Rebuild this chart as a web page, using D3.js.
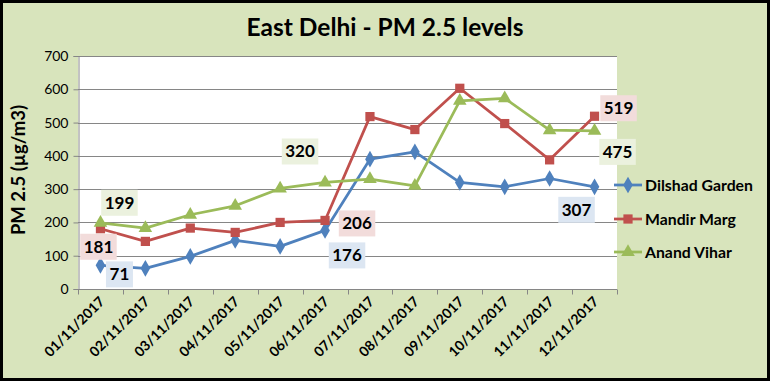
<!DOCTYPE html>
<html>
<head>
<meta charset="utf-8">
<script src="https://cdn.jsdelivr.net/npm/d3@7"></script>
<style>
  html, body { margin: 0; padding: 0; background: #fff; }
  svg { display: block; }
</style>
</head>
<body>
<svg id="chart" width="770" height="381"></svg>
<script>
// ---- data ----
const categories = ["01/11/2017","02/11/2017","03/11/2017","04/11/2017","05/11/2017","06/11/2017",
                    "07/11/2017","08/11/2017","09/11/2017","10/11/2017","11/11/2017","12/11/2017"];
const seriesNames = ["Dilshad Garden", "Mandir Marg", "Anand Vihar"];
const dilshadGarden = [71, 62, 98, 146, 128, 176, 390, 412, 320, 307, 332, 307];
const mandirMarg    = [181, 143, 183, 170, 200, 206, 518, 479, 603, 497, 388, 519];
const anandVihar    = [199, 183, 223, 250, 302, 320, 330, 310, 565, 573, 477, 475];
const yTicks = [0, 100, 200, 300, 400, 500, 600, 700];
const labelledIndex = [0, 5, 11];

// ---- styling / layout (not data) ----
const colors = ["#4F81BD", "#C0504D", "#9BBB59"];
const labelBg = ["#DCE6F2", "#F2DCDB", "#EBF1DE"];
const markers = [d3.symbolDiamond, d3.symbolSquare, d3.symbolTriangle];
const markerSize = [80, 85, 80];
// label offsets relative to point: [series][labelIndex] = [dx, dy]
const labelOffsets = [
  [[19, 9], [22, 25], [-18, 23]],
  [[-2, 18], [32, 3], [24, -8]],
  [[19, -20], [-25, -31], [23, 21]]
];

const svg = d3.select("#chart");
const W = 770, H = 381;
const font = "Lato, 'Noto Sans', sans-serif";

svg.append("rect").attr("x", 0).attr("y", 0).attr("width", W).attr("height", H).attr("fill", "#000");
svg.append("rect").attr("x", 3).attr("y", 3).attr("width", W - 6).attr("height", H - 6).attr("fill", "#D8E4BC");

const plot = { left: 78, right: 617, top: 56, bottom: 289 };

const x = d3.scaleBand().domain(categories).range([plot.left, plot.right]).paddingInner(0).paddingOuter(0);
const y = d3.scaleLinear().domain([0, 700]).range([plot.bottom, plot.top]);

// plot area
svg.append("rect").attr("x", plot.left).attr("y", plot.top)
  .attr("width", plot.right - plot.left).attr("height", plot.bottom - plot.top).attr("fill", "#fff");

// gridlines
svg.append("g").selectAll("line").data(yTicks.filter(d => d > 0)).join("line")
  .attr("x1", plot.left).attr("x2", plot.right)
  .attr("y1", d => Math.round(y(d)) + 0.5).attr("y2", d => Math.round(y(d)) + 0.5)
  .attr("stroke", "#868686").attr("stroke-width", 1);

// y axis
const yAxis = d3.axisLeft(y).tickValues(yTicks).tickSize(5).tickPadding(5);
const gy = svg.append("g").attr("transform", `translate(${plot.left + 0.5},0)`).call(yAxis);
gy.select(".domain").attr("stroke", "#868686");
gy.selectAll(".tick line").attr("stroke", "#868686");
gy.selectAll(".tick text").attr("font-family", font).attr("font-size", 14).attr("fill", "#000");

// x axis with ticks at category boundaries
const gx = svg.append("g").attr("transform", `translate(0,${plot.bottom + 0.5})`);
gx.append("line").attr("x1", plot.left).attr("x2", plot.right).attr("stroke", "#868686");
const bounds = categories.map(c => x(c)).concat([plot.right]);
gx.selectAll("line.tk").data(bounds).join("line").attr("class", "tk")
  .attr("x1", d => Math.round(d) + 0.5).attr("x2", d => Math.round(d) + 0.5)
  .attr("y1", 0).attr("y2", 5).attr("stroke", "#868686");
gx.selectAll("text").data(categories).join("text")
  .attr("transform", d => `translate(${x(d) + x.bandwidth() / 2 + 5},${13}) rotate(-45)`)
  .attr("text-anchor", "end")
  .attr("font-family", font).attr("font-weight", "bold").attr("font-size", 14)
  .attr("fill", "#000")
  .text(d => d);

// series
const allSeries = [dilshadGarden, mandirMarg, anandVihar];
const line = d3.line().x((d, i) => x(categories[i]) + x.bandwidth() / 2).y(d => y(d));

allSeries.forEach((vals, s) => {
  svg.append("path").datum(vals).attr("d", line)
    .attr("fill", "none").attr("stroke", colors[s]).attr("stroke-width", 2.75)
    .attr("stroke-linejoin", "round");
});
allSeries.forEach((vals, s) => {
  svg.append("g").selectAll("path").data(vals).join("path")
    .attr("transform", (d, i) => `translate(${x(categories[i]) + x.bandwidth() / 2},${y(d)})`)
    .attr("d", d3.symbol().type(markers[s]).size(markerSize[s]))
    .attr("fill", colors[s]);
});

// data labels
allSeries.forEach((vals, s) => {
  labelledIndex.forEach((idx, k) => {
    const px = x(categories[idx]) + x.bandwidth() / 2;
    const py = y(vals[idx]);
    const [dx, dy] = labelOffsets[s][k];
    const cx = px + dx, cy = py + dy;
    const g = svg.append("g");
    const txt = String(vals[idx]);
    const w = txt.length * 9.5 + 8;
    g.append("rect").attr("x", cx - w / 2).attr("y", cy - 13).attr("width", w).attr("height", 26)
      .attr("fill", labelBg[s]);
    g.append("text").attr("x", cx).attr("y", cy).attr("dy", "0.35em")
      .attr("text-anchor", "middle").attr("font-family", font).attr("font-weight", "bold")
      .attr("font-size", 17).attr("fill", "#000").text(txt);
  });
});

// legend
const legendY = [185, 219, 252];
seriesNames.forEach((name, s) => {
  const g = svg.append("g").attr("transform", `translate(614,${legendY[s]})`);
  g.append("line").attr("x1", 0).attr("x2", 28).attr("y1", 0).attr("y2", 0)
    .attr("stroke", colors[s]).attr("stroke-width", 2.75);
  g.append("path").attr("transform", "translate(14,0)")
    .attr("d", d3.symbol().type(markers[s]).size(markerSize[s])).attr("fill", colors[s]);
  g.append("text").attr("x", 31).attr("y", 0).attr("dy", "0.35em")
    .attr("font-family", font).attr("font-weight", "bold").attr("font-size", 15.8)
    .attr("fill", "#000").text(name);
});

// title
svg.append("text").attr("x", 385).attr("y", 36).attr("text-anchor", "middle")
  .attr("font-family", font).attr("font-weight", "bold").attr("font-size", 24.5)
  .attr("fill", "#000").text("East Delhi - PM 2.5 levels");

// y axis title
svg.append("text").attr("transform", `translate(25,170) rotate(-90)`)
  .attr("text-anchor", "middle")
  .attr("font-family", font).attr("font-weight", "bold").attr("font-size", 18.5)
  .attr("fill", "#000").text("PM 2.5 (µg/m3)");
</script>
</body>
</html>
